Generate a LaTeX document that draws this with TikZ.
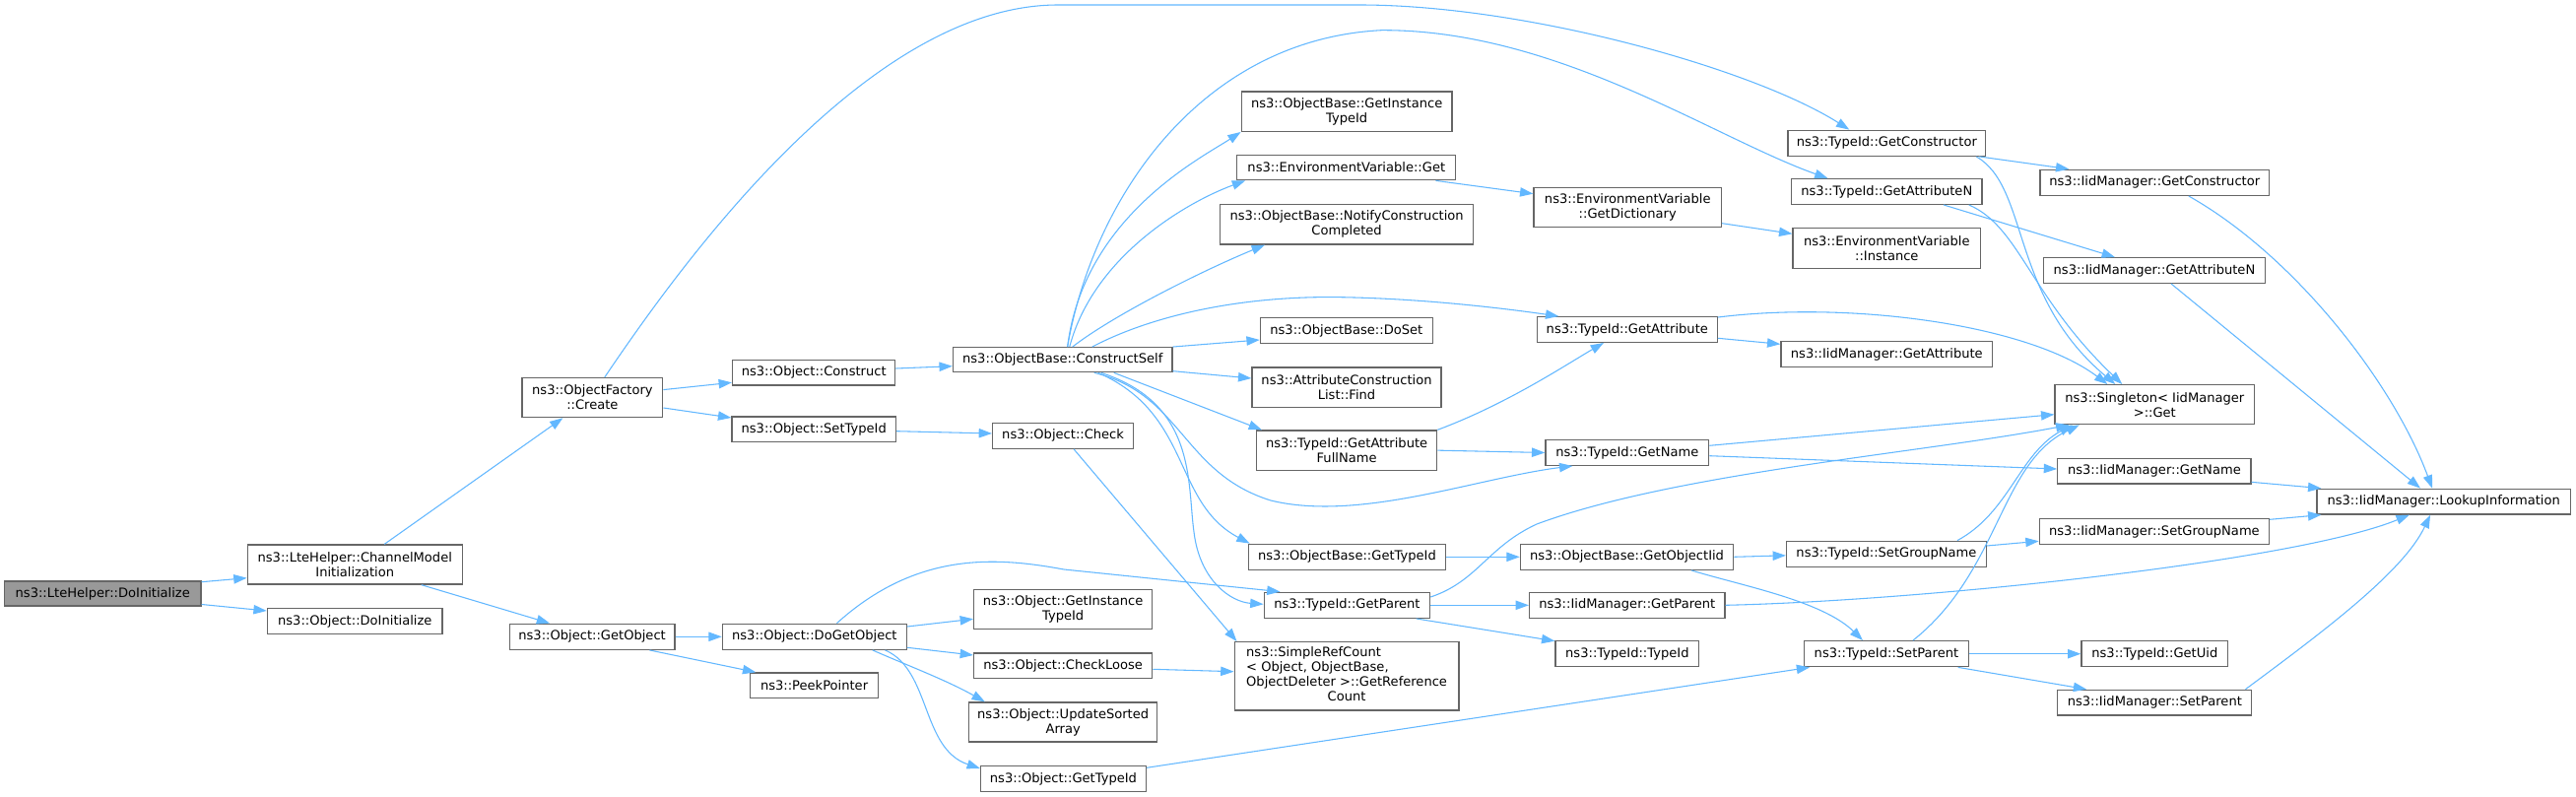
\documentclass[tikz,border=0pt]{standalone}
\usepackage{fontspec}
\setmainfont{DejaVu Sans}
\usetikzlibrary{arrows.meta,calc}
\definecolor{edgec}{HTML}{63B8FF}
\definecolor{bord}{HTML}{666666}
\definecolor{rootf}{HTML}{999999}
\begin{document}
\begin{tikzpicture}[x=0.75pt,y=-0.75pt,
  box/.style={draw=bord, fill=white, line width=1pt, inner sep=0pt, font=\fontsize{9.8}{11.25}\selectfont},
  boxc/.style={box, align=center},
  sz/.style 2 args={minimum width=#1*0.75pt, minimum height=#2*0.75pt},
  e/.style={draw=edgec, line width=0.8pt, -{Triangle[length=10pt,width=7pt]}}]
\useasboundingbox (0,0) rectangle (2615,809);
\fill[white] (0,0) rectangle (2615,809);

% nodes
\node[box,fill=rootf,sz={199.5}{25}] (root) at (104.25,602.5) {ns3::LteHelper::DoInitialize};
\node[boxc,sz={218}{40}] (chm) at (360.25,573) {ns3::LteHelper::ChannelModel\\Initialization};
\node[box,sz={177.7}{25.6}] (odi) at (360.25,630.5) {ns3::Object::DoInitialize};
\node[boxc,sz={142.8}{40}] (ofc) at (601.4,403.6) {ns3::ObjectFactory\\::Create};
\node[box,sz={167.8}{26}] (ogo) at (601.1,646.3) {ns3::Object::GetObject};
\node[box,sz={165.2}{25.3}] (ocon) at (826.2,378.3) {ns3::Object::Construct};
\node[box,sz={166.5}{25.7}] (osti) at (826.2,435.8) {ns3::Object::SetTypeId};
\node[box,sz={222.5}{25}] (ocs) at (1078.75,365.2) {ns3::ObjectBase::ConstructSelf};
\node[box,sz={142.9}{26}] (ochk) at (1079.1,442.3) {ns3::Object::Check};
\node[box,sz={186.9}{26}] (odgo) at (826.85,646.3) {ns3::Object::DoGetObject};
\node[box,sz={130}{25.7}] (opp) at (826.55,695.85) {ns3::PeekPointer};
\node[boxc,sz={181}{40}] (ogit) at (1079.15,618.7) {ns3::Object::GetInstance\\TypeId};
\node[box,sz={181}{25.7}] (ocl) at (1079.15,675.85) {ns3::Object::CheckLoose};
\node[boxc,sz={191.3}{40}] (ousa) at (1079.15,733) {ns3::Object::UpdateSorted\\Array};
\node[box,sz={167.7}{25.6}] (ogti) at (1079.45,790.5) {ns3::Object::GetTypeId};
\node[box,sz={227.8}{69.3}] (src) at (1367.1,686.35) {\begin{tabular}{@{}l@{}}ns3::SimpleRefCount\\< Object, ObjectBase,\\ObjectDeleter >::GetReference\\\multicolumn{1}{@{}c@{}}{Count}\end{tabular}};
\node[boxc,sz={213.7}{40.3}] (obgit) at (1367.15,113.15) {ns3::ObjectBase::GetInstance\\TypeId};
\node[box,sz={222}{25.4}] (evg) at (1366.8,170) {ns3::EnvironmentVariable::Get};
\node[boxc,sz={257}{40.3}] (obnc) at (1367.1,227.85) {ns3::ObjectBase::NotifyConstruction\\Completed};
\node[box,sz={174.8}{26}] (obds) at (1366.8,335.7) {ns3::ObjectBase::DoSet};
\node[boxc,sz={192}{40.3}] (acl) at (1367,393.15) {ns3::AttributeConstruction\\List::Find};
\node[boxc,sz={183}{40.3}] (tgafn) at (1367.1,457.15) {ns3::TypeId::GetAttribute\\FullName};
\node[box,sz={200.2}{26}] (obgti) at (1367.4,565.3) {ns3::ObjectBase::GetTypeId};
\node[box,sz={168.4}{26}] (tgp) at (1367.4,614.3) {ns3::TypeId::GetParent};
\node[box,sz={200.6}{26}] (tgc) at (1915.3,145.3) {ns3::TypeId::GetConstructor};
\node[box,sz={193.4}{25.6}] (tgan) at (1915.3,194.5) {ns3::TypeId::GetAttributeN};
\node[box,sz={232.5}{26}] (imgc) at (2187.25,185.3) {ns3::IidManager::GetConstructor};
\node[boxc,sz={190.5}{40}] (evgd) at (1652.25,210.7) {ns3::EnvironmentVariable\\::GetDictionary};
\node[boxc,sz={190.6}{40.6}] (evi) at (1915.3,252) {ns3::EnvironmentVariable\\::Instance};
\node[box,sz={224.7}{25.6}] (imgan) at (2186.95,274.5) {ns3::IidManager::GetAttributeN};
\node[box,sz={182.8}{25.6}] (tga) at (1651.8,334.5) {ns3::TypeId::GetAttribute};
\node[box,sz={214.6}{26}] (imga) at (1915.3,359.7) {ns3::IidManager::GetAttribute};
\node[boxc,sz={202.6}{40}] (sing) at (2187.3,410.7) {ns3::Singleton< IidManager\\ >::Get};
\node[box,sz={165.7}{25.6}] (tgn) at (1651.85,459.5) {ns3::TypeId::GetName};
\node[box,sz={196.2}{25.3}] (imgn) at (2186.9,478.35) {ns3::IidManager::GetName};
\node[box,sz={257.3}{25.7}] (imli) at (2480.65,509.15) {ns3::IidManager::LookupInformation};
\node[box,sz={233.2}{26}] (imsgn) at (2186.9,539.7) {ns3::IidManager::SetGroupName};
\node[box,sz={216.2}{26}] (obgoi) at (1651.5,565.3) {ns3::ObjectBase::GetObjectIid};
\node[box,sz={202.7}{26}] (tsgn) at (1914.95,562.3) {ns3::TypeId::SetGroupName};
\node[box,sz={198.4}{26}] (imgp) at (1651.8,614.3) {ns3::IidManager::GetParent};
\node[box,sz={145.7}{26}] (tti) at (1651.85,663.7) {ns3::TypeId::TypeId};
\node[box,sz={167.1}{26}] (tsp) at (1914.95,663.7) {ns3::TypeId::SetParent};
\node[box,sz={148.6}{26}] (tgu) at (2187.3,663.7) {ns3::TypeId::GetUid};
\node[box,sz={197}{25.7}] (imsp) at (2187.3,713.15) {ns3::IidManager::SetParent};

% edges
\draw[e] ($(root.east)+(0,-11.8)$) -- ($(chm.west)+(0,13.7)$);
\draw[e] ($(root.east)+(0,11)$) -- ($(odi.west)+(0,-10.5)$);
\draw[e] ($(chm.north)+(30,0)$) -- ($(ofc.south)+(-30,0)$);
\draw[e] ($(chm.south)+(67.5,0)$) -- ($(ogo.north)+(-43,0)$);
\draw[e] ($(ofc.east)+(0,-8)$) -- ($(ocon.west)+(0,10)$);
\draw[e] ($(ofc.east)+(0,10.4)$) -- ($(osti.west)+(0,-11.8)$);
\draw[e] ($(ofc.north)+(12.4,0)$) .. controls (690,270) and (880,5) .. (1074,5) -- (1380,5) .. controls (1550,5) and (1780,70) .. ($(tgc.north)+(-38,0)$);
\draw[e] ($(ocon.east)+(0,-4.3)$) -- ($(ocs.west)+(0,6.5)$);
\draw[e] ($(osti.east)+(0,1.9)$) -- ($(ochk.west)+(0,-2.3)$);
\draw[e] ($(ochk.south)+(11,0)$) -- ($(src.north west)+(3,0)$);
% ConstructSelf fan
\draw[e] ($(ocs.north)+(4.9,0)$) .. controls (1100,220) and (1220,160) .. (obgit.south west);
\draw[e] ($(ocs.north)+(7,0)$) .. controls (1110,260) and (1205,205) .. ($(evg.south west)+(9,0)$);
\draw[e] ($(ocs.north)+(10,0)$) .. controls (1130,320) and (1220,275) .. ($(obnc.south west)+(46,0)$);
\draw[e] (ocs.north east) -- ($(obds.west)+(0,9.3)$);
\draw[e] ($(ocs.east)+(0,11.5)$) -- ($(acl.west)+(0,-9.15)$);
\draw[e] ($(ocs.north)+(30,0)$) .. controls (1170,320) and (1260,300) .. (1361,301.7) .. controls (1440,303) and (1520,312) .. ($(tga.north west)+(22.6,0)$);
\draw[e] ($(ocs.north)+(4.9,0)$) .. controls (1110,200) and (1220,40) .. (1402.5,30.7) .. controls (1580,30) and (1740,140) .. ($(tgan.north)+(-59.8,0)$);
\draw[e] ($(ocs.south)+(52,0)$) -- ($(tgafn.north west)+(6,0)$);
\draw[e] ($(ocs.south)+(32,0)$) .. controls (1200,400) and (1200,480) .. (1290,508) .. controls (1380,530) and (1500,485) .. ($(tgn.south west)+(28,0)$);
\draw[e] ($(ocs.south)+(36,0)$) .. controls (1210,420) and (1190,510) .. ($(obgti.north west)+(2,0)$);
\draw[e] ($(ocs.south)+(39,0)$) .. controls (1215,410) and (1205,490) .. (1212,540) .. controls (1218,590) and (1250,611) .. ($(tgp.west)+(0,-1)$);
% environment variable
\draw[e] ($(evg.south east)+(-21,0)$) -- ($(evgd.west)+(0,-14)$);
\draw[e] ($(evgd.east)+(0,16)$) -- ($(evi.west)+(0,-14.7)$);
% attribute full name
\draw[e] (tgafn.north east) .. controls (1530,410) and (1590,370) .. ($(tga.south)+(-23.8,0)$);
\draw[e] (tgafn.east) -- (tgn.west);
\draw[e] ($(tga.north east)+(0,1)$) .. controls (1880,305) and (2060,330) .. ($(sing.north west)+(54,0)$);
\draw[e] ($(tga.east)+(0,8.8)$) -- ($(imga.west)+(0,-10.4)$);
\draw[e] ($(tgc.south east)+(-7,0)$) -- ($(imgc.north west)+(30,0)$);
\draw[e] ($(tgc.south east)+(-10,0)$) .. controls (2060,190) and (2040,300) .. ($(sing.north)+(-40,0)$);
\draw[e] ($(tgan.south east)+(-14,0)$) .. controls (2050,230) and (2060,300) .. ($(sing.north)+(-33,0)$);
\draw[e] ($(tgan.south)+(57.7,0)$) -- ($(imgan.north)+(-40,0)$);
\draw[e] ($(imgc.south)+(34.5,0)$) .. controls (2330,260) and (2430,390) .. ($(imli.north)+(-11.6,0)$);
\draw[e] ($(imgan.south)+(17,0)$) -- ($(imli.north)+(-23.6,0)$);
\draw[e] ($(tgn.east)+(0,-7.2)$) -- ($(sing.west)+(0,10)$);
\draw[e] ($(tgn.east)+(0,3.2)$) -- ($(imgn.west)+(0,-2.35)$);
\draw[e] ($(imgn.east)+(0,11)$) -- ($(imli.north west)+(5,0)$);
\draw[e] (obgti.east) -- (obgoi.west);
\draw[e] (obgoi.east) -- ($(tsgn.west)+(0,1.5)$);
\draw[e] ($(obgoi.south)+(65.5,0)$) .. controls (1770,595) and (1850,610) .. ($(tsp.north)+(-24,0)$);
\draw[e] ($(tgp.east)+(0,-8.3)$) .. controls (1500,590) and (1510,555) .. (1560,532) .. controls (1700,480) and (1950,460) .. ($(sing.south west)+(15,0)$);
\draw[e] (tgp.east) -- (imgp.west);
\draw[e] ($(tgp.south east)+(-14.6,0)$) -- ($(tti.west)+(0,-13)$);
\draw[e] (imgp.east) .. controls (1950,610) and (2330,570) .. ($(imli.south)+(-34.8,0)$);
\draw[e] ($(tsgn.north)+(72,0)$) .. controls (2040,520) and (2050,460) .. ($(sing.south west)+(18.4,0)$);
\draw[e] ($(tsgn.east)+(0,-8.3)$) -- ($(imsgn.west)+(0,9.6)$);
\draw[e] ($(imsgn.east)+(0,-12.4)$) -- ($(imli.south west)+(5,0)$);
\draw[e] ($(tsp.north)+(27,0)$) .. controls (2030,580) and (2030,470) .. ($(sing.south west)+(25.5,0)$);
\draw[e] (tsp.east) -- (tgu.west);
\draw[e] ($(tsp.south east)+(-11.5,0)$) -- ($(imsp.north west)+(30,0)$);
\draw[e] ($(imsp.north east)+(-7,0)$) .. controls (2360,640) and (2440,580) .. ($(imli.south)+(-13.6,0)$);
% GetObject branch
\draw[e] (ogo.east) -- (odgo.west);
\draw[e] ($(ogo.south)+(58.4,0)$) -- ($(opp.north west)+(6.4,0)$);
\draw[e] ($(odgo.north)+(22.6,0)$) .. controls (930,560) and (1010,565) .. (1080,578) -- ($(tgp.north west)+(17,0)$);
\draw[e] ($(odgo.east)+(0,-10.3)$) -- ($(ogit.west)+(0,9.6)$);
\draw[e] ($(odgo.east)+(0,11)$) -- ($(ocl.west)+(0,-10.85)$);
\draw[e] ($(odgo.south)+(59,0)$) .. controls (920,675) and (960,690) .. ($(ousa.north west)+(17,0)$);
\draw[e] ($(odgo.south)+(71.75,0)$) .. controls (945,680) and (935,760) .. ($(ogti.west)+(0,-10.5)$);
\draw[e] ($(ocl.east)+(0,3.45)$) -- ($(src.west)+(0,-4.65)$);
\draw[e] ($(ogti.east)+(0,-11.2)$) -- ($(tsp.south west)+(6.4,0)$);
\end{tikzpicture}
\end{document}
